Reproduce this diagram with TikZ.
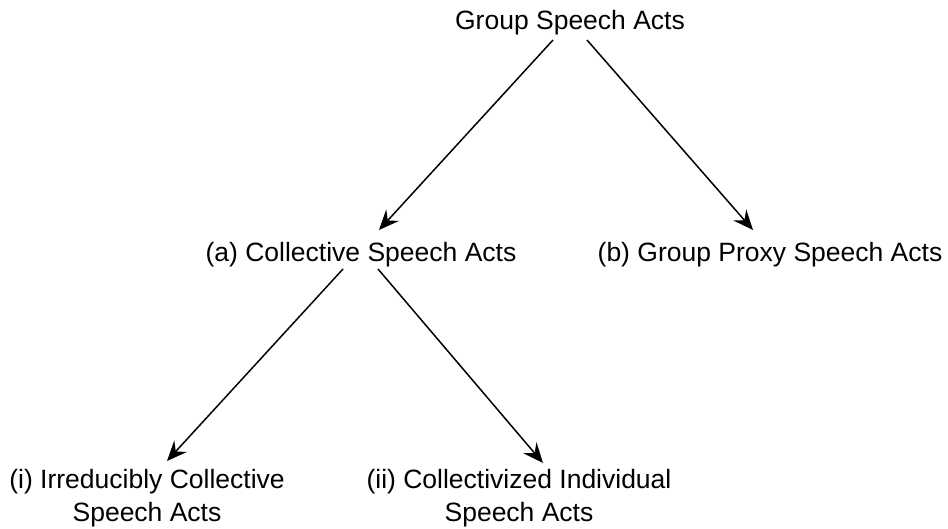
\documentclass[tikz,border=0pt]{standalone}
\usepackage{fontspec}
\setmainfont{Liberation Sans}
\usetikzlibrary{arrows.meta,calc}
\begin{document}
\begin{tikzpicture}[x=1pt,y=-1pt,
  lbl/.style={inner sep=0pt,anchor=base,align=center,font=\fontsize{26.5}{33}\selectfont},
  arr/.style={line width=1.5pt,-{Stealth[length=20pt,width=17pt,inset=7pt]}}]
\useasboundingbox (0,0) rectangle (948,529);
\node[lbl] (top) at (570,30) {Group Speech Acts};
\node[lbl] (a) at (361,262) {(a) Collective Speech Acts};
\node[lbl] (b) at (770,262) {(b) Group Proxy Speech Acts};
\node[lbl] (i) at (147,521) {(i) Irreducibly Collective\\Speech Acts};
\node[lbl] (ii) at (519,521) {(ii) Collectivized Individual\\Speech Acts};
\draw[arr] ($(top.base)+(-17,10)$) -- ($(a.base)+(18,-32)$);
\draw[arr] ($(top.base)+(17,10)$) -- ($(b.base)+(-17,-32)$);
\draw[arr] ($(a.base)+(-18,7)$) -- ($(i.base)+(20,-60)$);
\draw[arr] ($(a.base)+(17,7)$) -- ($(ii.base)+(24,-58)$);
\end{tikzpicture}
\end{document}
